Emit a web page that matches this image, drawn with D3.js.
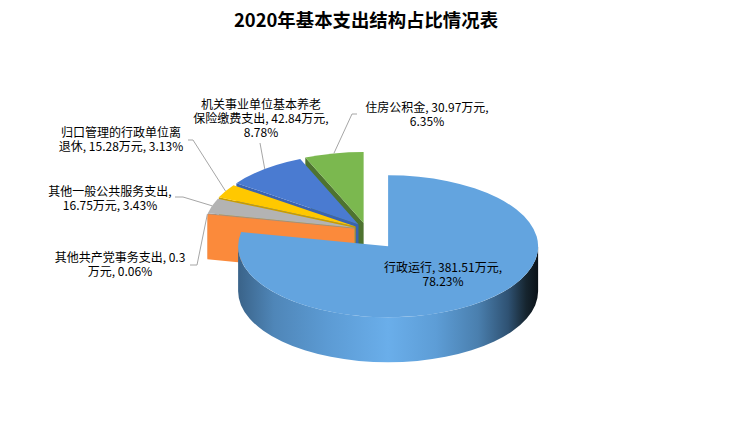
<!DOCTYPE html>
<html>
<head>
<meta charset="utf-8">
<title>2020年基本支出结构占比情况表</title>
<script src="https://cdn.jsdelivr.net/npm/d3@7"></script>
<style>
    body { margin: 0; background: #fff; }
    text { font-family: "Noto Sans CJK SC", "Noto Sans", sans-serif; }
</style>
</head>
<body>
<div id="chart"></div>
<script>
    // data
    var titleText = "2020年基本支出结构占比情况表";
    var categories = ["行政运行", "其他共产党事务支出", "其他一般公共服务支出", "归口管理的行政单位离退休", "机关事业单位基本养老保险缴费支出", "住房公积金"];
    var amounts = [381.51, 0.3, 16.75, 15.28, 42.84, 30.97];
    var percents = [78.23, 0.06, 3.43, 3.13, 8.78, 6.35];
    var unit = "万元";

    // styles
    var topColors = ["#63a4df", "#ff8f3f", "#b3b3b3", "#ffc800", "#4a7bd1", "#7bb84f"];
    var faceColors = ["#4d84b8", "#fb8a3b", "#8f8f8f", "#c99c00", "#3a63b0", "#4e7330"];

    // geometry of the 3d pie
    var svgWidth = 734, svgHeight = 436;
    var cx = 366, cy = 230, rx = 150, ry = 71, depth = 45, tilt = 0.6;
    var explode = [35, 12, 12, 12, 12, 12];

    // where each label sits: centre x, first baseline, line breaks, leader start points
    var labelLayout = [
        { x: 443, y: 272, breaks: [15], leader: null },
        { x: 120, y: 262, breaks: [14], leader: [[190, 265], [197, 265]] },
        { x: 110, y: 196, breaks: [11], leader: [[175, 197], [183, 197]] },
        { x: 121, y: 137, breaks: [10], leader: [[188, 140], [193, 140]] },
        { x: 261, y: 109, breaks: [10, 26], leader: [[260, 143]] },
        { x: 427, y: 112, breaks: [15], leader: [[357, 114], [352, 114]] }
    ];
    var lineHeight = 14;

    var data = categories.map(function (c, i) {
        return { name: c, value: amounts[i], pct: percents[i], i: i };
    });

    var pie = d3.pie().sort(null).value(function (d) { return d.value; });
    var arcs = pie(data);

    var svg = d3.select("#chart").append("svg")
        .attr("width", svgWidth)
        .attr("height", svgHeight);

    svg.append("text")
        .attr("x", 366)
        .attr("y", 27)
        .attr("text-anchor", "middle")
        .attr("font-size", 18.4)
        .attr("font-weight", "bold")
        .attr("fill", "#000")
        .text(titleText);

    function apex(d) {
        var m = (d.startAngle + d.endAngle) / 2;
        var e = explode[d.index];
        return [cx + e * Math.sin(m), cy - e * Math.cos(m) * tilt];
    }
    function pt(o, a, dy) {
        return [o[0] + rx * Math.sin(a), o[1] - ry * Math.cos(a) + (dy || 0)];
    }
    function topPath(d) {
        var o = apex(d), p0 = pt(o, d.startAngle), p1 = pt(o, d.endAngle);
        var large = d.endAngle - d.startAngle > Math.PI ? 1 : 0;
        return "M" + o + "L" + p0 + "A" + rx + "," + ry + " 0 " + large + " 1 " + p1 + "Z";
    }
    function wallPath(d) {
        var s = Math.max(d.startAngle, Math.PI / 2), e = Math.min(d.endAngle, 3 * Math.PI / 2);
        if (s >= e) return null;
        var o = apex(d);
        return "M" + pt(o, s) + "A" + rx + "," + ry + " 0 0 1 " + pt(o, e) +
            "L" + pt(o, e, depth) + "A" + rx + "," + ry + " 0 0 0 " + pt(o, s, depth) + "Z";
    }
    function facePath(d, a) {
        var o = apex(d), p = pt(o, a);
        return "M" + o + "L" + p + "L" + [p[0], p[1] + depth] + "L" + [o[0], o[1] + depth] + "Z";
    }

    // gradient for the outer wall of the big slice
    var defs = svg.append("defs");
    var o0 = apex(arcs[0]);
    var grad = defs.append("linearGradient")
        .attr("id", "wall0")
        .attr("gradientUnits", "userSpaceOnUse")
        .attr("x1", o0[0] - rx).attr("x2", o0[0] + rx)
        .attr("y1", 0).attr("y2", 0);
    [[0, "#3a6389"], [0.12, "#4f86b8"], [0.3, "#5c9bd4"], [0.5, "#6aaeea"], [0.66, "#5d9dd6"],
     [0.8, "#4a7fae"], [0.9, "#2f5273"], [0.96, "#16252f"], [1, "#0b1218"]].forEach(function (s) {
        grad.append("stop").attr("offset", s[0]).attr("stop-color", s[1]);
    });

    // paint back slices first (largest cos of mid angle = farthest away)
    var order = arcs.slice().sort(function (a, b) {
        return Math.cos((b.startAngle + b.endAngle) / 2) - Math.cos((a.startAngle + a.endAngle) / 2);
    });

    var g = svg.append("g");
    order.forEach(function (d) {
        var sg = g.append("g");
        if (Math.sin(d.startAngle) < -1e-6) {
            sg.append("path").attr("d", facePath(d, d.startAngle)).attr("fill", faceColors[d.index]);
        }
        if (Math.sin(d.endAngle) > 1e-6) {
            sg.append("path").attr("d", facePath(d, d.endAngle)).attr("fill", faceColors[d.index]);
        }
        var w = wallPath(d);
        if (w) {
            sg.append("path").attr("d", w)
                .attr("fill", d.index === 0 ? "url(#wall0)" : faceColors[d.index]);
        }
        sg.append("path").attr("d", topPath(d)).attr("fill", topColors[d.index]);
    });

    // labels and leader lines
    arcs.forEach(function (d) {
        var L = labelLayout[d.index];
        var full = d.data.name + ", " + d.data.value + unit + ", " + d.data.pct.toFixed(2) + "%";
        var cuts = [0].concat(L.breaks, [full.length]);
        var lines = [];
        for (var k = 0; k < cuts.length - 1; k++) lines.push(full.slice(cuts[k], cuts[k + 1]).trim());

        if (L.leader) {
            var m = (d.startAngle + d.endAngle) / 2;
            var pts = L.leader.concat([pt(apex(d), m)]);
            svg.append("path")
                .attr("d", d3.line()(pts))
                .attr("fill", "none")
                .attr("stroke", "#a6a6a6")
                .attr("stroke-width", 1);
        }

        var t = svg.append("text")
            .attr("text-anchor", "middle")
            .attr("font-size", 12)
            .attr("fill", "#000");
        lines.forEach(function (s, k) {
            t.append("tspan").attr("x", L.x).attr("y", L.y + k * lineHeight).text(s);
        });
    });
</script>
</body>
</html>
